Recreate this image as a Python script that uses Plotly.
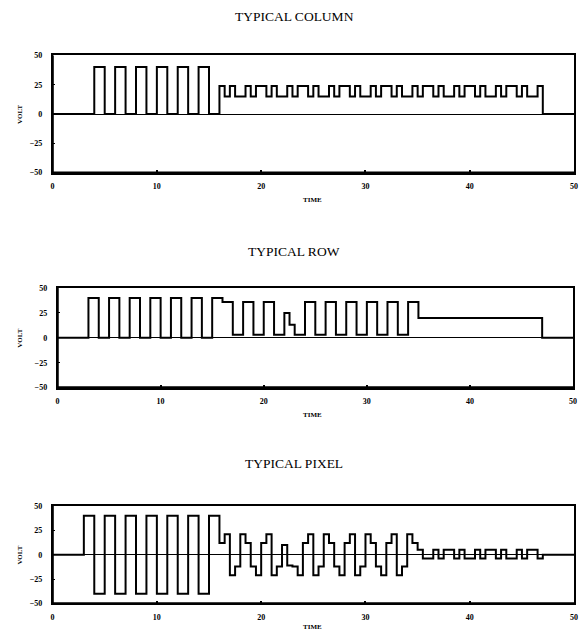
import plotly.graph_objects as go

# ---- data: step waveforms (segment start time, level) ----
column_t = [0, 4, 5, 6, 7, 8, 9, 10, 11, 12, 13, 14, 15,
            16, 16.5, 17, 17.5, 18.5, 19, 19.5, 20.5, 21, 21.5, 22.5, 23, 23.5,
            24.5, 25, 25.5, 26.5, 27, 27.5, 28.5, 29, 29.5, 30.5, 31, 31.5,
            32.5, 33, 33.5, 34.5, 35, 35.5, 36.5, 37, 37.5, 38.5, 39, 39.5,
            40.5, 41, 41.5, 42.5, 43, 43.5, 44.5, 45, 45.5, 46.5, 47, 50]
column_v = [0, 40, 0, 40, 0, 40, 0, 40, 0, 40, 0, 40, 0,
            24, 15, 24, 15, 24, 15, 24, 15, 24, 15, 24, 15, 24,
            15, 24, 15, 24, 15, 24, 15, 24, 15, 24, 15, 24,
            15, 24, 15, 24, 15, 24, 15, 24, 15, 24, 15, 24,
            15, 24, 15, 24, 15, 24, 15, 24, 15, 24, 0, 0]

row_t = [0, 3, 4, 5, 6, 7, 8, 9, 10, 11, 12, 13, 14, 15, 16, 17, 18, 19, 20,
         21, 22, 22.5, 23, 24, 25, 26, 27, 28, 29, 30, 31, 32, 33, 34, 35, 47, 50]
row_v = [0, 40, 0, 40, 0, 40, 0, 40, 0, 40, 0, 40, 0, 40, 36, 3, 36, 3, 36,
         3, 25, 13, 3, 36, 3, 36, 3, 36, 3, 36, 3, 36, 3, 36, 20, 0, 0]

pixel_t = [0, 3, 4, 5, 6, 7, 8, 9, 10, 11, 12, 13, 14, 15,
           16, 16.5, 17, 17.5, 18, 18.5, 19, 19.5, 20, 20.5, 21, 21.5,
           22, 22.5, 23, 23.5, 24, 24.5, 25, 25.5, 26, 26.5, 27, 27.5,
           28, 28.5, 29, 29.5, 30, 30.5, 31, 31.5, 32, 32.5, 33, 33.5,
           34, 34.5, 35, 35.5, 36.5, 37, 37.5, 38.5, 39, 39.5, 40.5, 41,
           41.5, 42.5, 43, 43.5, 44.5, 45, 45.5, 46.5, 47, 50]
pixel_v = [0, 40, -40, 40, -40, 40, -40, 40, -40, 40, -40, 40, -40, 40,
           12, 21, -21, -12, 21, 12, -12, -21, 12, 21, -21, -12,
           10, -11, -12, -21, 12, 21, -21, -12, 21, 12, -12, -21,
           12, 21, -21, -12, 21, 12, -12, -21, 12, 21, -21, -12,
           21, 12, 5, -4, 5, -4, 5, -4, 5, -4, 5, -4,
           5, -4, 5, -4, 5, -4, 5, -4, 0, 0]

titles = ["TYPICAL COLUMN", "TYPICAL ROW", "TYPICAL PIXEL"]
x_ticks = [0, 10, 20, 30, 40, 50]
y_ticks = [-50, -25, 0, 25, 50]

# page body has an 8px margin; work in page pixels and shift
OFF = 8
W, H = 587 - OFF, 643 - OFF
# panel boxes in page pixels: (left, right, top, bottom)
boxes = [(51, 578, 52, 171), (56, 577, 288, 389), (51, 578, 509, 608)]
title_y = [13, 251, 466]
time_y = [199, 417, 632]
series = [(column_t, column_v), (row_t, row_v), (pixel_t, pixel_v)]


def px(x):
    return (x - OFF) / W


def py(y):
    return 1 - (y - OFF) / H


fig = go.Figure()
serif = "Liberation Serif"
tickfont = dict(family=serif, size=8, color="black", weight="bold")

for i, ((l, r, t, b), (xs, ys)) in enumerate(zip(boxes, series)):
    n = "" if i == 0 else str(i + 1)
    fig.add_trace(go.Scatter(x=xs, y=ys, mode="lines", line_shape="hv",
                             line=dict(color="black", width=2),
                             xaxis="x" + n, yaxis="y" + n, showlegend=False,
                             hoverinfo="skip"))
    fig.layout["xaxis" + n] = dict(
        domain=[px(l), px(r)], anchor="y" + n, range=[0, 50],
        tickvals=x_ticks, ticks="inside", ticklen=3, tickwidth=1.5, tickcolor="black",
        showline=True, linecolor="black", linewidth=1.5, mirror=True,
        showgrid=False, zeroline=False, tickfont=tickfont, ticklabelstandoff=5)
    fig.layout["yaxis" + n] = dict(
        domain=[py(b), py(t)], anchor="x" + n, range=[-50, 50],
        tickvals=y_ticks, ticks="inside", ticklen=3, tickwidth=1, tickcolor="black",
        showline=True, linecolor="black", linewidth=1.5, mirror=True,
        showgrid=False, zeroline=True, zerolinecolor="black", zerolinewidth=1,
        tickfont=tickfont, ticklabelstandoff=7)
    # heavier bottom and left frame edges
    fig.add_shape(type="line", xref="x" + n + " domain", yref="y" + n + " domain",
                  x0=0, x1=1, y0=0, y1=0, line=dict(color="black", width=2.5))
    fig.add_shape(type="line", xref="x" + n + " domain", yref="y" + n + " domain",
                  x0=0, x1=0, y0=0, y1=1, line=dict(color="black", width=2.5))
    fig.add_annotation(text=titles[i], x=px(295), y=py(title_y[i]),
                       xref="paper", yref="paper", showarrow=False,
                       xanchor="center", yanchor="middle",
                       font=dict(family=serif, size=13.5, color="black"))
    fig.add_annotation(text="TIME", x=px(314), y=py(time_y[i]),
                       xref="paper", yref="paper", showarrow=False,
                       xanchor="center", yanchor="middle",
                       font=dict(family=serif, size=7, color="black", weight="bold"))
    fig.add_annotation(text="VOLT", x=px(18), y=py((t + b) / 2),
                       xref="paper", yref="paper", showarrow=False, textangle=-90,
                       xanchor="center", yanchor="middle",
                       font=dict(family=serif, size=7, color="black", weight="bold"))

fig.update_layout(width=W, height=H, margin=dict(l=0, r=0, t=0, b=0),
                  paper_bgcolor="white", plot_bgcolor="white")
fig.write_html("out.html")
